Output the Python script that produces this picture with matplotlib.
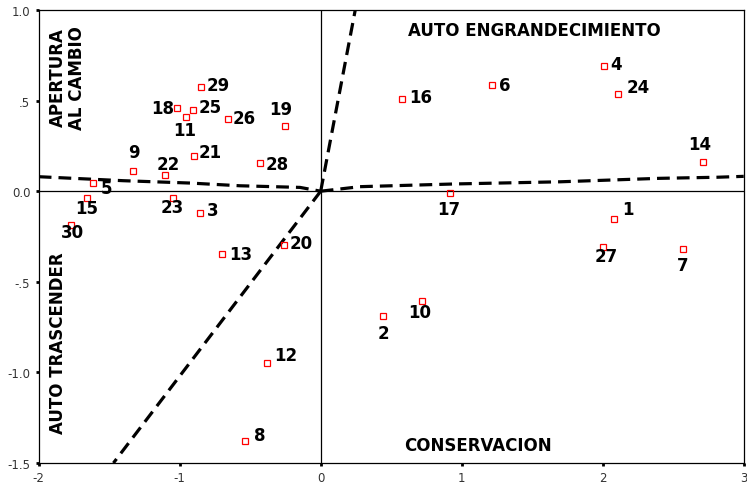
import matplotlib
matplotlib.use("Agg")
import matplotlib.pyplot as plt
import numpy as np

# case numbers and their coordinates
ids = list(range(1, 31))
xs = [2.080, 0.444, -0.854, 2.011, -1.617, 1.217, 2.570, -0.537, -1.331, 0.716,
      -0.955, -0.381, -0.702, 2.713, -1.660, 0.577, 0.919, -1.021, -0.251, -0.258,
      -0.896, -1.104, -1.050, 2.106, -0.906, -0.655, 2.002, -0.433, -0.851, -1.773]
ys = [-0.153, -0.687, -0.122, 0.693, 0.047, 0.586, -0.319, -1.380, 0.113, -0.604,
      0.409, -0.950, -0.345, 0.163, -0.039, 0.510, -0.012, 0.458, 0.360, -0.295,
      0.194, 0.089, -0.038, 0.535, 0.450, 0.398, -0.306, 0.157, 0.573, -0.187]

# label offsets (pixels) from each marker
offs = [(14, 10), (0, -17), (12, 3), (12, 2), (14, -5), (12, 0), (0, -16), (15, 6),
        (1, 19), (-2, -11), (-1, -13), (19, 8), (19, 0), (-3, 18), (0, -10),
        (19, 2), (-2, -16), (-14, 0), (-5, 17), (17, 2), (16, 4), (3, 11), (0, -9),
        (21, 7), (17, 3), (16, 1), (3, -9), (18, -1), (18, 2), (2, -7)]

# dashed boundaries
left_x = [-2.0, -1.755, -1.40, -0.927, -0.572, -0.147, 0.0]
left_y = [0.080, 0.071, 0.058, 0.045, 0.030, 0.021, 0.0]
right_x = [0.0, 0.278, 0.95, 1.7, 2.4, 2.81, 3.0]
right_y = [0.0, 0.025, 0.040, 0.052, 0.071, 0.077, 0.082]
up_x = [0.0, 0.245]
up_y = [0.0, 1.0]
down_x = [0.0, -1.47]
down_y = [0.0, -1.5]

xticks = [-2, -1, 0, 1, 2, 3]
xtick_labels = ["-2", "-1", "0", "1", "2", "3"]
yticks = [1.0, 0.5, 0.0, -0.5, -1.0, -1.5]
ytick_labels = ["1.0", ".5", "0.0", "-.5", "-1.0", "-1.5"]

fig = plt.figure(figsize=(7.47, 4.89), dpi=100)
ax = fig.add_axes([0.0518, 0.0511, 0.9438, 0.9264])

ax.axhline(0, color="black", lw=0.9, zorder=1)
ax.axvline(0, color="black", lw=0.9, zorder=1)

dash = (0, (4, 2.2))
for lx, ly in [(left_x, left_y), (right_x, right_y), (up_x, up_y), (down_x, down_y)]:
    ax.plot(lx, ly, color="black", lw=2.3, ls=dash, zorder=2, clip_on=True)

ax.plot(xs, ys, ls="none", marker="s", ms=5, mfc="none", mec="red", mew=0.9, zorder=3)

for i, x, y, (dx, dy) in zip(ids, xs, ys, offs):
    ax.annotate(str(i), (x, y), xytext=(dx, dy), textcoords="offset pixels",
                ha="center", va="center", fontsize=12, fontweight="bold", zorder=4)

ax.text(1.513, 0.891, "AUTO ENGRANDECIMIENTO", ha="center", va="center",
        fontsize=12, fontweight="bold")
ax.text(1.117, -1.401, "CONSERVACION", ha="center", va="center",
        fontsize=12, fontweight="bold")
ax.text(-1.796, 0.630, "APERTURA\nAL CAMBIO", ha="center", va="center",
        rotation=90, fontsize=12, fontweight="bold", linespacing=1.1)
ax.text(-1.863, -0.832, "AUTO TRASCENDER", ha="center", va="center",
        rotation=90, fontsize=12, fontweight="bold")

ax.set_xlim(-2, 3)
ax.set_ylim(-1.5, 1.0)
ax.set_xticks(xticks)
ax.set_xticklabels(xtick_labels)
ax.set_yticks(yticks)
ax.set_yticklabels(ytick_labels)
ax.tick_params(direction="out", length=2, width=2, labelsize=8.5, labelcolor="#333333", pad=4)
for s in ax.spines.values():
    s.set_linewidth(0.9)

fig.savefig("out.png", dpi=100)
